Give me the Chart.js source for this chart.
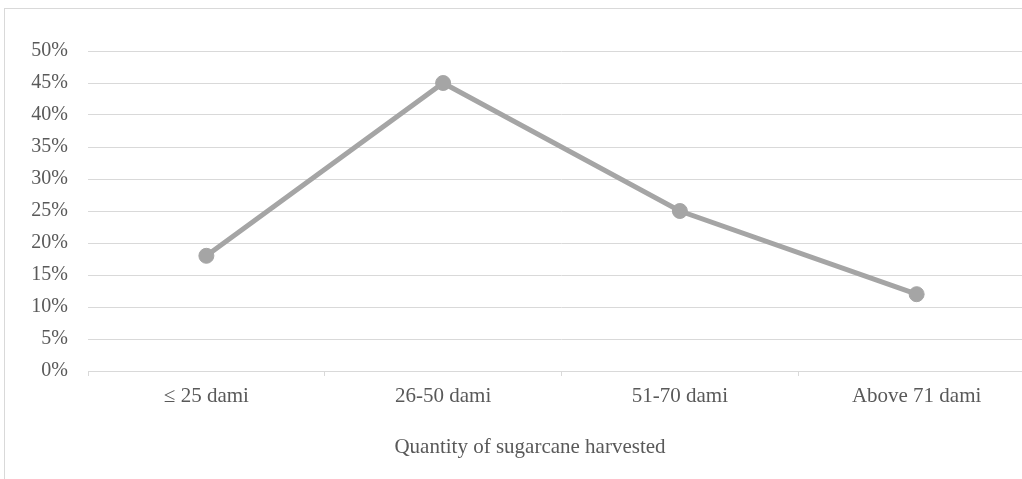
<!DOCTYPE html>
<html>
<head>
<meta charset="utf-8">
<script src="https://cdn.jsdelivr.net/npm/chart.js@4/dist/chart.umd.min.js"></script>
<style>
  html, body { margin: 0; padding: 0; background: #fff; overflow: hidden; width: 1022px; height: 479px; }
  #frame { position: absolute; left: 4px; top: 8px; width: 1100px; height: 600px; border: 1px solid #d9d9d9; box-sizing: border-box; }
  #wrap { position: absolute; left: 0; top: 0; width: 1060px; height: 479px; }
</style>
</head>
<body>
<div id="frame"></div>
<div id="wrap"><canvas id="c" width="1060" height="479"></canvas></div>
<script>
const categories = ["\u2264 25 dami", "26-50 dami", "51-70 dami", "Above 71 dami"];
const shares = [0.18, 0.45, 0.25, 0.12];
const xTitle = "Quantity of sugarcane harvested";

const textColor = "#595959";
const gridColor = "#d9d9d9";
const family = "'Liberation Serif', 'Times New Roman', serif";

const titlePlugin = {
  id: 'centeredXTitle',
  afterDraw(chart) {
    const ctx = chart.ctx;
    ctx.save();
    ctx.font = "21px " + family;
    ctx.fillStyle = textColor;
    ctx.textAlign = "center";
    ctx.textBaseline = "middle";
    ctx.fillText(xTitle, chart.width / 2, 447);
    ctx.restore();
  }
};

new Chart(document.getElementById('c'), {
  type: 'line',
  data: {
    labels: categories,
    datasets: [{
      data: shares,
      borderColor: '#a5a5a5',
      backgroundColor: '#a5a5a5',
      borderWidth: 5,
      pointRadius: 7.5,
      pointBorderWidth: 1,
      pointBackgroundColor: '#a5a5a5',
      pointBorderColor: '#a5a5a5',
      pointHoverRadius: 7.5,
      tension: 0,
      fill: false
    }]
  },
  options: {
    responsive: false,
    animation: false,
    events: [],
    layout: { padding: { top: 51, right: 25, bottom: 0, left: 0 } },
    plugins: { legend: { display: false }, tooltip: { enabled: false } },
    scales: {
      x: {
        offset: true,
        grid: { offset: true, drawOnChartArea: false, drawTicks: true, tickLength: 5, color: gridColor, lineWidth: 1 },
        border: { display: true, color: gridColor, width: 1 },
        ticks: { color: textColor, font: { family: family, size: 21 }, padding: 8, maxRotation: 0, autoSkip: false },
        afterFit(scale) { scale.height = 108; }
      },
      y: {
        min: 0,
        max: 0.5,
        grid: { color: gridColor, lineWidth: 1, drawTicks: false },
        border: { display: false },
        ticks: {
          stepSize: 0.05,
          color: textColor,
          font: { family: family, size: 20 },
          padding: 20,
          callback: (v) => Math.round(v * 100) + '%'
        },
        afterFit(scale) { scale.width = 88; }
      }
    }
  },
  plugins: [titlePlugin]
});
</script>
</body>
</html>
